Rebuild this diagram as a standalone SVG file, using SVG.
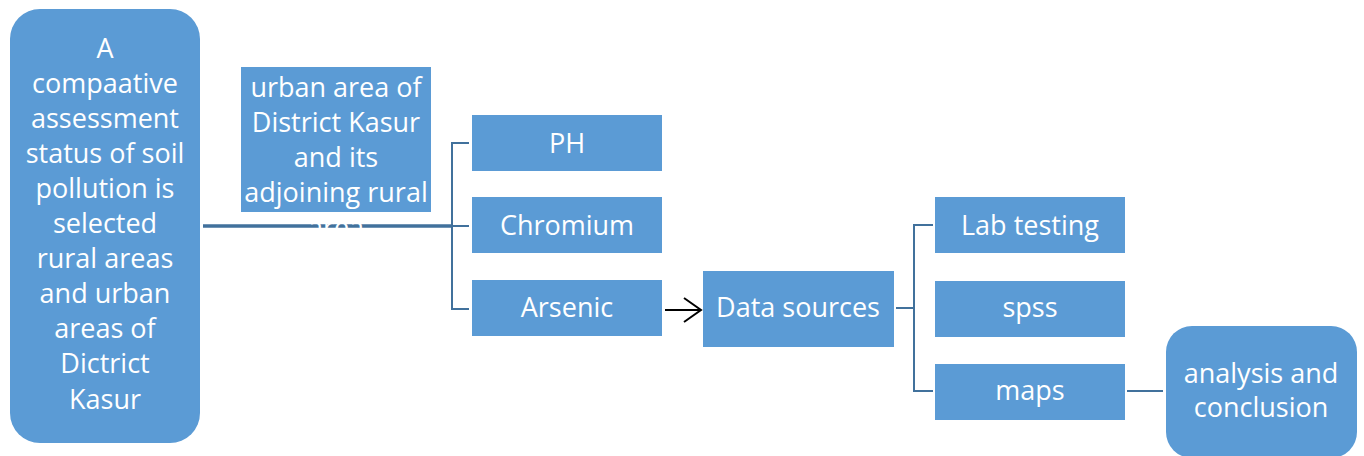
<svg xmlns="http://www.w3.org/2000/svg" width="1364" height="456" viewBox="0 0 1364 456">
  <defs>
    <style>
      .box { fill: #5B9BD5; }
      .lbl { fill: #FFFFFF; font-family: "Open Sans", "Liberation Sans", sans-serif; font-size: 27px; text-anchor: middle; }
      .link { fill: none; stroke: #41719C; stroke-width: 2; }
      .trunk { fill: none; stroke: #41719C; stroke-width: 3.5; }
      .arrow { fill: none; stroke: #000000; stroke-width: 2; }
    </style>
  </defs>
  <rect width="1364" height="456" fill="#FFFFFF"/>

  <!-- connectors -->
  <g id="connectors">
    <line class="trunk" x1="203" y1="226" x2="453" y2="226"/>
    <path class="link" d="M469,143 H452 V309 H469 M452,226 H469"/>
    <line class="arrow" x1="665" y1="310" x2="701" y2="310"/>
    <polyline class="arrow" points="684,298 701,310 684,322"/>
    <path class="link" d="M896,308 H914 M933,225 H914 V391 H933"/>
    <line class="link" x1="1127" y1="391" x2="1163" y2="391"/>
  </g>

  <g id="main-topic">
    <rect class="box" x="10" y="9" width="190" height="434" rx="30"/>
    <text class="lbl" x="105" y="58">A</text>
    <text class="lbl" x="105" y="93">compaative</text>
    <text class="lbl" x="105" y="128">assessment</text>
    <text class="lbl" x="105" y="163">status of soil</text>
    <text class="lbl" x="105" y="198">pollution is</text>
    <text class="lbl" x="105" y="233">selected</text>
    <text class="lbl" x="105" y="268">rural areas</text>
    <text class="lbl" x="105" y="303">and urban</text>
    <text class="lbl" x="105" y="338">areas of</text>
    <text class="lbl" x="105" y="373">Dictrict</text>
    <text class="lbl" x="105" y="409">Kasur</text>
  </g>

  <g id="study-area">
    <rect class="box" x="241" y="67" width="190" height="145"/>
    <text class="lbl" x="336" y="97">urban area of</text>
    <text class="lbl" x="336" y="132">District Kasur</text>
    <text class="lbl" x="336" y="167">and its</text>
    <text class="lbl" x="336" y="202">adjoining rural</text>
    <text class="lbl" x="336" y="237">area</text>
  </g>

  <g id="ph">
    <rect class="box" x="472" y="115" width="190" height="56"/>
    <text class="lbl" x="567" y="153">PH</text>
  </g>
  <g id="chromium">
    <rect class="box" x="472" y="197" width="190" height="56"/>
    <text class="lbl" x="567" y="235">Chromium</text>
  </g>
  <g id="arsenic">
    <rect class="box" x="472" y="280" width="190" height="56"/>
    <text class="lbl" x="567" y="317">Arsenic</text>
  </g>

  <g id="data-sources">
    <rect class="box" x="703" y="271" width="191" height="76"/>
    <text class="lbl" x="798" y="317">Data sources</text>
  </g>

  <g id="lab-testing">
    <rect class="box" x="935" y="197" width="190" height="56"/>
    <text class="lbl" x="1030" y="235">Lab testing</text>
  </g>
  <g id="spss">
    <rect class="box" x="935" y="281" width="190" height="56"/>
    <text class="lbl" x="1030" y="317">spss</text>
  </g>
  <g id="maps">
    <rect class="box" x="935" y="364" width="190" height="56"/>
    <text class="lbl" x="1030" y="400">maps</text>
  </g>

  <g id="analysis">
    <rect class="box" x="1166" y="326" width="191" height="132" rx="26"/>
    <text class="lbl" x="1261" y="383">analysis and</text>
    <text class="lbl" x="1261" y="417">conclusion</text>
  </g>
</svg>
